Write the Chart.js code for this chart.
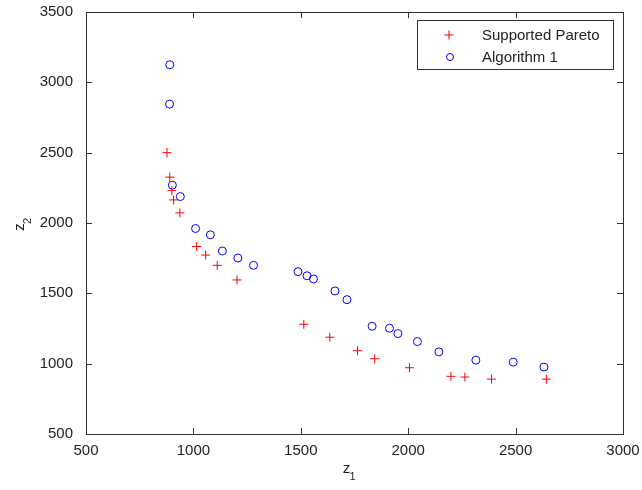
<!DOCTYPE html>
<html>
<head>
<meta charset="utf-8">
<script src="https://cdn.jsdelivr.net/npm/chart.js@4"></script>
<style>
  body { margin: 0; background: #fff; }
  canvas { display: block; }
</style>
</head>
<body>
<canvas id="grafico" width="642" height="490"></canvas>
<script>
// datos
const paretoZ1 = [877, 890, 900, 908, 937, 1015, 1057, 1111, 1203, 1514, 1635, 1764, 1844, 2006, 2199, 2264, 2388, 2643];
const paretoZ2 = [2500, 2326, 2230, 2164, 2072, 1833, 1772, 1699, 1595, 1280, 1188, 1092, 1035, 971, 910, 905, 890, 890];
const algZ1 = [890, 889, 902, 939, 1010, 1079, 1135, 1207, 1280, 1487, 1529, 1559, 1659, 1715, 1832, 1913, 1952, 2043, 2143, 2315, 2489, 2632];
const algZ2 = [3125, 2845, 2269, 2188, 1961, 1916, 1801, 1751, 1699, 1654, 1625, 1602, 1517, 1455, 1266, 1252, 1214, 1157, 1084, 1025, 1011, 976];
const xTicks = [500, 1000, 1500, 2000, 2500, 3000];
const yTicks = [500, 1000, 1500, 2000, 2500, 3000, 3500];

const fuente = '15px "Liberation Sans", Arial, sans-serif';
const colorEje = '#333';

function puntos(xs, ys) {
    return xs.map((x, i) => ({x: x, y: ys[i]}));
}

// caja, marcas hacia adentro, titulos y leyenda estilo matlab
const estiloMatlab = {
    id: 'estiloMatlab',
    afterDraw(chart) {
        const ctx = chart.ctx;
        const a = chart.chartArea;
        const sx = chart.scales.x, sy = chart.scales.y;
        ctx.save();
        ctx.strokeStyle = colorEje;
        ctx.lineWidth = 1;
        ctx.beginPath();
        xTicks.forEach(v => {
            const px = Math.round(sx.getPixelForValue(v)) + 0.5;
            ctx.moveTo(px, a.bottom); ctx.lineTo(px, a.bottom - 6);
            ctx.moveTo(px, a.top); ctx.lineTo(px, a.top + 6);
        });
        yTicks.forEach(v => {
            const py = Math.round(sy.getPixelForValue(v)) + 0.5;
            ctx.moveTo(a.left, py); ctx.lineTo(a.left + 6, py);
            ctx.moveTo(a.right, py); ctx.lineTo(a.right - 6, py);
        });
        ctx.stroke();
        ctx.strokeRect(Math.round(a.left) + 0.5, Math.round(a.top) + 0.5,
            Math.round(a.right - a.left), Math.round(a.bottom - a.top));

        // titulos de ejes con subindice
        ctx.fillStyle = '#222';
        ctx.textBaseline = 'middle';
        ctx.textAlign = 'center';
        const cx = (a.left + a.right) / 2;
        ctx.font = fuente;
        ctx.fillText('z', cx - 8, 469);
        ctx.font = '11px "Liberation Sans", Arial, sans-serif';
        ctx.fillText('1', cx - 2, 477);

        ctx.save();
        ctx.translate(20, (a.top + a.bottom) / 2 + 4);
        ctx.rotate(-Math.PI / 2);
        ctx.font = fuente;
        ctx.fillText('z', 0, 0);
        ctx.font = '11px "Liberation Sans", Arial, sans-serif';
        ctx.fillText('2', 6, 8);
        ctx.restore();

        // leyenda
        const lx = 417, ly = 20, lw = 196, lh = 49;
        ctx.fillStyle = '#fff';
        ctx.fillRect(lx, ly, lw, lh);
        ctx.strokeStyle = colorEje;
        ctx.strokeRect(lx + 0.5, ly + 0.5, lw, lh);
        ctx.font = fuente;
        ctx.textAlign = 'left';
        chart.data.datasets.forEach((ds, i) => {
            const my = ly + 15 + i * 22;
            ctx.strokeStyle = ds.borderColor;
            ctx.lineWidth = 1;
            ctx.beginPath();
            if (ds.pointStyle === 'cross') {
                ctx.moveTo(449 - 4.5, my); ctx.lineTo(449 + 4.5, my);
                ctx.moveTo(449, my - 4.5); ctx.lineTo(449, my + 4.5);
            } else {
                ctx.arc(450, my, 3.5, 0, Math.PI * 2);
            }
            ctx.stroke();
            ctx.fillStyle = '#222';
            ctx.fillText(ds.label, 482, my + 1);
        });
        ctx.restore();
    }
};

const ctx = document.getElementById('grafico').getContext('2d');
new Chart(ctx, {
    type: 'scatter',
    data: {
        datasets: [
            {
                label: 'Supported Pareto',
                data: puntos(paretoZ1, paretoZ2),
                pointStyle: 'cross',
                pointRadius: 4.5,
                borderColor: '#ff0000',
                backgroundColor: 'rgba(0,0,0,0)',
                borderWidth: 1
            },
            {
                label: 'Algorithm 1',
                data: puntos(algZ1, algZ2),
                pointStyle: 'circle',
                pointRadius: 4,
                borderColor: '#0000ff',
                backgroundColor: 'rgba(0,0,0,0)',
                borderWidth: 1
            }
        ]
    },
    options: {
        responsive: false,
        animation: false,
        layout: { padding: { top: 12, right: 19, left: 0, bottom: 0 } },
        plugins: { legend: { display: false }, tooltip: { enabled: false } },
        scales: {
            x: {
                type: 'linear',
                min: 500,
                max: 3000,
                afterFit: s => { s.height = 56; s.paddingLeft = 0; s.paddingRight = 0; },
                afterBuildTicks: s => { s.ticks = xTicks.map(v => ({value: v})); },
                grid: { display: false },
                border: { display: false },
                ticks: {
                    padding: 0,
                    color: '#222',
                    font: { family: '"Liberation Sans", Arial, sans-serif', size: 15 },
                    callback: v => String(v),
                    maxRotation: 0
                }
            },
            y: {
                type: 'linear',
                min: 500,
                max: 3500,
                afterFit: s => { s.width = 86; s.paddingTop = 0; s.paddingBottom = 0; },
                afterBuildTicks: s => { s.ticks = yTicks.map(v => ({value: v})); },
                grid: { display: false },
                border: { display: false },
                ticks: {
                    padding: 5,
                    color: '#222',
                    font: { family: '"Liberation Sans", Arial, sans-serif', size: 15 },
                    callback: v => String(v)
                }
            }
        }
    },
    plugins: [estiloMatlab]
});
</script>
</body>
</html>
